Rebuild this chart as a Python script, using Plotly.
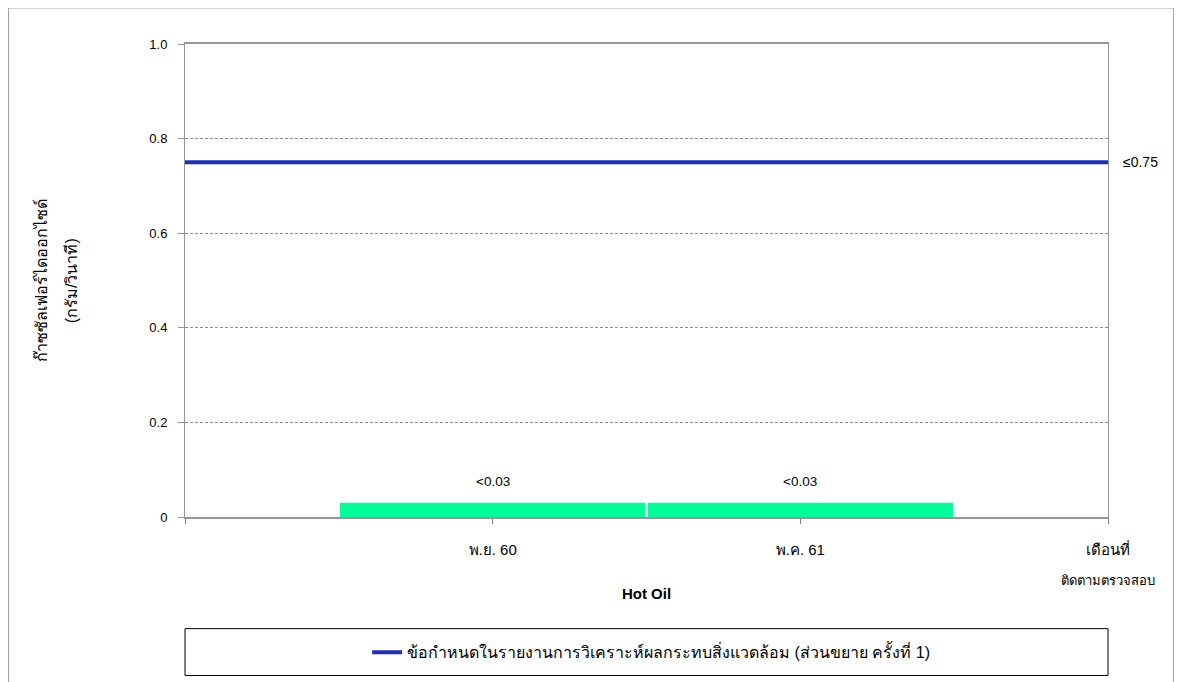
import plotly.graph_objects as go

# data
months = ["พ.ย. 60", "พ.ค. 61"]
month_pos = [1, 2]
so2_values = [0.03, 0.03]
so2_labels = ["<0.03", "<0.03"]
limit_value = 0.75
limit_label = "≤0.75"
limit_name = "ข้อกำหนดในรายงานการวิเคราะห์ผลกระทบสิ่งแวดล้อม (ส่วนขยาย ครั้งที่ 1)"
y_ticks = [0, 0.2, 0.4, 0.6, 0.8, 1.0]
y_ticktext = ["0", "0.2", "0.4", "0.6", "0.8", "1.0"]
end_label = ["เดือนที่", "ติดตามตรวจสอบ"]
x_title = "Hot Oil"
y_title = ["ก๊าซซัลเฟอร์ไดออกไซด์", "(กรัม/วินาที)"]

FONT = "Liberation Sans, Arial, sans-serif"
n = len(months) + 1
x_span = [0, n]

fig = go.Figure()
fig.add_trace(go.Bar(x=month_pos, y=so2_values, width=0.993,
                     marker=dict(color="#00ff99", line=dict(width=0)),
                     showlegend=False, hoverinfo="skip"))
fig.add_trace(go.Scatter(x=x_span, y=[limit_value]*2, mode="lines",
                         line=dict(color="#1a2fc4", width=4),
                         name=limit_name))

ann = []
for xp, v, t in zip(month_pos, so2_values, so2_labels):
    ann.append(dict(x=xp, y=v, text=t, showarrow=False, yshift=21,
                    font=dict(size=13.5, color="black")))
ann.append(dict(x=1, xref="paper", y=limit_value, text=limit_label,
                showarrow=False, xanchor="left", xshift=13,
                font=dict(size=14, color="black")))
ann.append(dict(x=n, y=0, text=end_label[1], showarrow=False, yref="y",
                yshift=-63, font=dict(size=13, color="black")))
ann.append(dict(x=-0.169, xref="paper", y=0.5, yref="paper", text=y_title[0],
                textangle=-90, showarrow=False, font=dict(size=16, color="black")))
ann.append(dict(x=-0.134, xref="paper", y=0.5, yref="paper", text=y_title[1],
                textangle=-90, showarrow=False, font=dict(size=16, color="black")))

fig.update_layout(
    width=1182, height=682,
    margin=dict(l=177, r=82, t=36, b=173, autoexpand=False),
    plot_bgcolor="white", paper_bgcolor="white",
    font=dict(family=FONT, size=12, color="black"),
    annotations=ann,
    showlegend=True,
    legend=dict(x=0.505, y=-0.286, xanchor="center", yanchor="middle",
                orientation="h", bgcolor="rgba(0,0,0,0)",
                font=dict(size=16, color="black")),
    shapes=[
        # outer frame
        dict(type="rect", xref="paper", yref="paper", x0=-0.1916, x1=1.0715,
             y0=-0.36, y1=1.0772, line=dict(color="#a6a6a6", width=2)),
        # legend box
        dict(type="rect", xref="paper", yref="paper", x0=0, x1=1,
             y0=-0.335, y1=-0.236, line=dict(color="black", width=1)),
    ],
)

fig.update_xaxes(range=x_span, tickvals=list(range(n + 1)),
                 ticktext=[""] + months + [end_label[0]],
                 ticks="outside", ticklen=5, tickcolor="#808080",
                 ticklabelstandoff=13,
                 showline=True, linecolor="#969696", linewidth=2, mirror=True,
                 showgrid=False, zeroline=False,
                 tickfont=dict(size=15, color="black"),
                 title=dict(text="<b>" + x_title + "</b>", standoff=31,
                            font=dict(size=15, color="black")))
fig.update_yaxes(range=[0, 1.0], tickvals=y_ticks, ticktext=y_ticktext,
                 ticks="outside", ticklen=6, tickcolor="#969696",
                 ticklabelstandoff=8,
                 showline=True, linecolor="#969696", linewidth=1, mirror=True,
                 showgrid=True, gridcolor="#8c8c8c", griddash="3px,2px",
                 gridwidth=1, zeroline=False,
                 tickfont=dict(size=13, color="black"))

fig.write_html("out.html")
